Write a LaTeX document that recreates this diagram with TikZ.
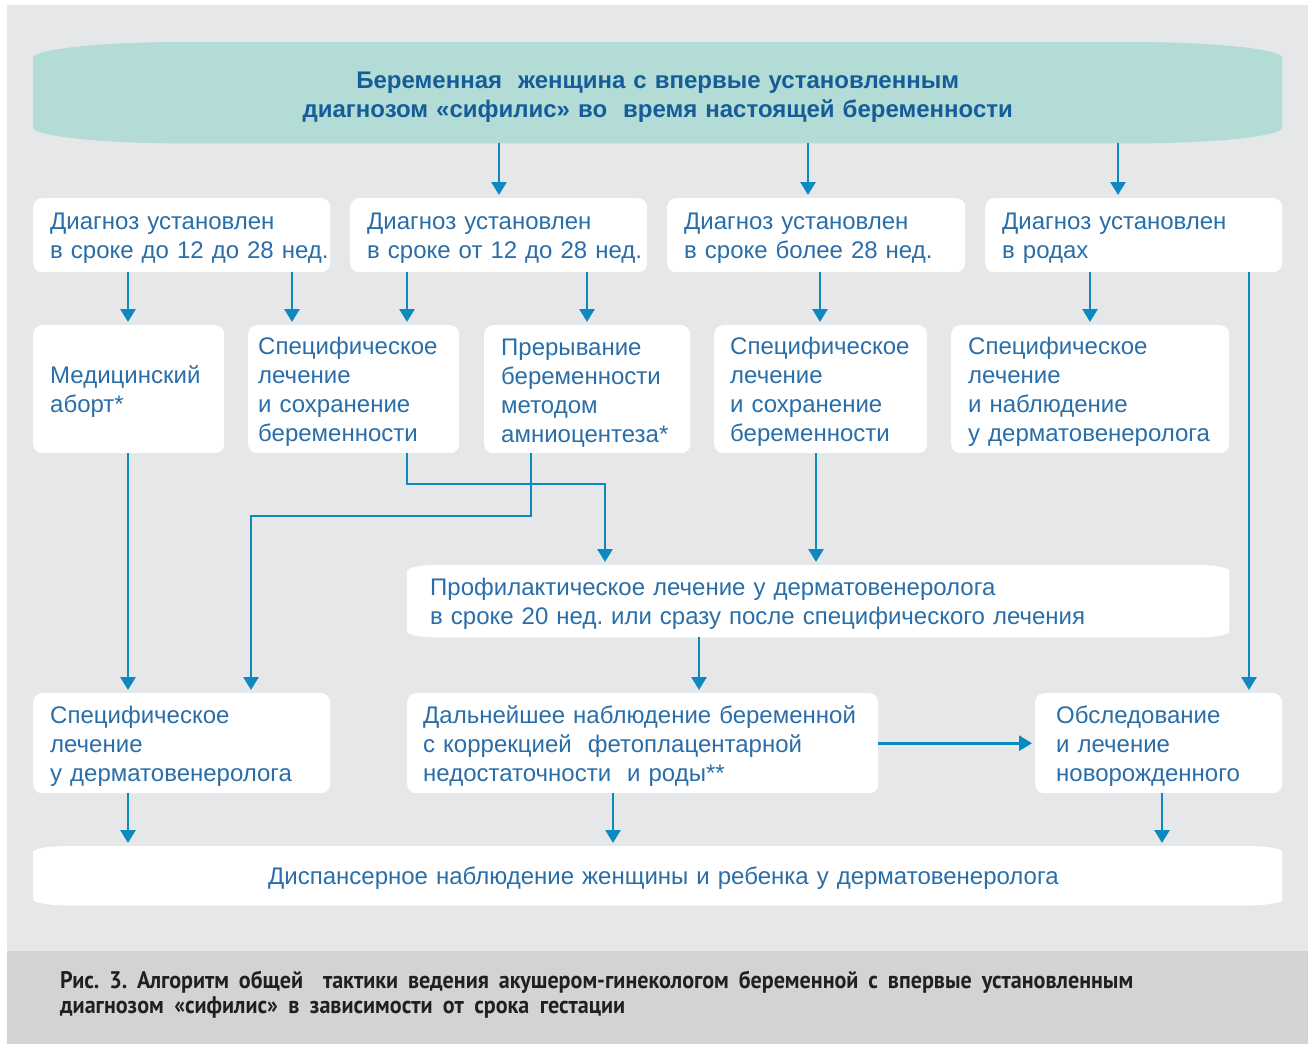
\documentclass[tikz,border=0pt]{standalone}
\usepackage{fontspec}
\setmainfont{Liberation Sans}
\newfontfamily\capfamily{PT Sans}[FakeStretch=0.92]
\usetikzlibrary{arrows.meta}
\frenchspacing

\definecolor{pagegray}{HTML}{E6E7E8}
\definecolor{capgray}{HTML}{D1D3D4}
\definecolor{bannerfill}{HTML}{B3DCD7}
\definecolor{headblue}{HTML}{155D99}
\definecolor{boxblue}{HTML}{2A6EA9}
\definecolor{arrowblue}{HTML}{0C89BF}
\definecolor{capink}{HTML}{231F20}

\pgfdeclarelayer{pagelayer}
\pgfdeclarelayer{shapelayer}
\pgfsetlayers{pagelayer,shapelayer,main}

% filled outline with wide elliptical corners behind a named node
\newcommand\softback[4]{%
  \begin{pgfonlayer}{shapelayer}
  \fill[#4]
    ([yshift=-#3]#1.north west)
      .. controls ([yshift=-0.45*#3]#1.north west) and ([xshift=0.45*#2]#1.north west) ..
    ([xshift=#2]#1.north west) -- ([xshift=-#2]#1.north east)
      .. controls ([xshift=-0.45*#2]#1.north east) and ([yshift=-0.45*#3]#1.north east) ..
    ([yshift=-#3]#1.north east) -- ([yshift=#3]#1.south east)
      .. controls ([yshift=0.45*#3]#1.south east) and ([xshift=-0.45*#2]#1.south east) ..
    ([xshift=-#2]#1.south east) -- ([xshift=#2]#1.south west)
      .. controls ([xshift=0.45*#2]#1.south west) and ([yshift=0.45*#3]#1.south west) ..
    ([yshift=#3]#1.south west) -- cycle;
  \end{pgfonlayer}}

\tikzset{
  boxtext/.style={anchor=north west, inner xsep=17pt, inner ysep=0pt, align=left,
    text=boxblue, font=\fontsize{24}{29}\selectfont,
    execute at begin node={\rule{0pt}{23.5pt}}},
  box/.style={boxtext, fill=white, rounded corners=9pt},
  arr/.style={draw=arrowblue, line width=2.7pt, -{Triangle[width=15pt,length=13pt]},
    shorten >=3pt},
}

\begin{document}
\begin{tikzpicture}[x=1pt,y=-1pt]
\useasboundingbox (0,0) rectangle (1308,1044);
\begin{pgfonlayer}{pagelayer}
  \fill[white] (0,0) rectangle (1308,1044);
  \fill[pagegray] (7,5) rectangle (1308,951);
  \fill[capgray] (7,951) rectangle (1308,1044);
\end{pgfonlayer}

% heading
\node[anchor=north west, minimum width=1249pt, minimum height=101pt, inner sep=0pt,
  text width=1249pt, align=center, text=headblue,
  font=\bfseries\fontsize{24}{29}\selectfont,
  execute at begin node={\rule{0pt}{25pt}}]
  (banner) at (33,42)
  {Беременная~ женщина с впервые установленным\\диагнозом «сифилис» во~ время настоящей беременности};
\softback{banner}{150pt}{16pt}{bannerfill}

% row 1
\node[box, minimum width=297pt, minimum height=74pt, text width=263pt] (a1) at (33,198)
  {Диагноз установлен\\в~сроке~до~12~до~28~нед.};
\node[box, minimum width=297pt, minimum height=74pt, text width=263pt] (a2) at (350,198)
  {Диагноз установлен\\в~сроке~от~12~до~28~нед.};
\node[box, minimum width=298pt, minimum height=74pt, text width=264pt] (a3) at (667,198)
  {Диагноз установлен\\в сроке более 28 нед.};
\node[box, minimum width=297pt, minimum height=74pt, text width=263pt] (a4) at (985,198)
  {Диагноз установлен\\в родах};

% row 2
\node[box, minimum width=191pt, minimum height=128pt, text width=157pt] (b1) at (33,325)
  {Медицинский\\аборт*};
\node[box, inner xsep=10pt, minimum width=211pt, minimum height=128pt, text width=191pt] (b2) at (248,325)
  {Специфическое\\лечение\\и сохранение\\беременности};
\node[box, minimum width=206pt, minimum height=128pt, text width=172pt] (b3) at (484,325)
  {Прерывание\\беременности\\методом\\амниоцентеза*};
\node[box, inner xsep=16pt, minimum width=213pt, minimum height=128pt, text width=181pt] (b4) at (714,325)
  {Специфическое\\лечение\\и сохранение\\беременности};
\node[box, minimum width=278pt, minimum height=128pt, text width=244pt] (b5) at (951,325)
  {Специфическое\\лечение\\и наблюдение\\у~дерматовенеролога};

% preventive treatment
\node[boxtext, inner xsep=23pt, minimum width=822pt, minimum height=72pt, text width=776pt] (c) at (407,565)
  {Профилактическое лечение у дерматовенеролога\\в сроке 20 нед. или сразу после специфического лечения};
\softback{c}{30pt}{6pt}{white}

% row 4
\node[box, minimum width=297pt, minimum height=100pt, text width=263pt] (d1) at (33,693)
  {Специфическое\\лечение\\у дерматовенеролога};
\node[box, inner xsep=16pt, minimum width=471pt, minimum height=100pt, text width=439pt] (d2) at (407,693)
  {Дальнейшее~наблюдение~беременной\\с коррекцией~ фетоплацентарной\\недостаточности~ и роды**};
\node[box, inner xsep=21pt, minimum width=247pt, minimum height=100pt, text width=205pt] (d3) at (1035,693)
  {Обследование\\и лечение\\новорожденного};

% follow-up
\node[boxtext, inner xsep=0pt, minimum width=1249pt, minimum height=59pt, text width=1249pt,
  execute at begin node={\rule{0pt}{21.5pt}}] (e) at (33,846)
  {\hspace*{235pt}Диспансерное наблюдение женщины и ребенка у дерматовенеролога};
\softback{e}{35pt}{6pt}{white}

% connector columns and bends
\coordinate (x128) at (128,0);
\coordinate (x292) at (292,0);
\coordinate (x407) at (407,0);
\coordinate (x499) at (499,0);
\coordinate (x531) at (531,0);
\coordinate (x587) at (587,0);
\coordinate (x613) at (613,0);
\coordinate (x699) at (699,0);
\coordinate (x808) at (808,0);
\coordinate (x816) at (816,0);
\coordinate (x820) at (820,0);
\coordinate (x1090) at (1090,0);
\coordinate (x1118) at (1118,0);
\coordinate (x1162) at (1162,0);
\coordinate (x1249) at (1249,0);
\coordinate (bendA) at (605,484);
\coordinate (bendB) at (251,516);

\draw[arr] (banner.south -| x499) -- (a2.north -| x499);
\draw[arr] (banner.south -| x808) -- (a3.north -| x808);
\draw[arr] (banner.south -| x1118) -- (a4.north -| x1118);

\draw[arr] (a1.south -| x128) -- (b1.north -| x128);
\draw[arr] (a1.south -| x292) -- (b2.north -| x292);
\draw[arr] (a2.south -| x407) -- (b2.north -| x407);
\draw[arr] (a2.south -| x587) -- (b3.north -| x587);
\draw[arr] (a3.south -| x820) -- (b4.north -| x820);
\draw[arr] (a4.south -| x1090) -- (b5.north -| x1090);
\draw[arr] (a4.south -| x1249) -- (d3.north -| x1249);

\draw[arr] (b1.south -| x128) -- (d1.north -| x128);
\draw[arr] (b2.south -| x407) |- (bendA) -- (c.north -| bendA);
\draw[arr] (b3.south -| x531) |- (bendB) -- (d1.north -| bendB);
\draw[arr] (b4.south -| x816) -- (c.north -| x816);

\draw[arr] (c.south -| x699) -- (d2.north -| x699);
\draw[arr] (d2.east) -- (d3.west);

\draw[arr] (d1.south -| x128) -- (e.north -| x128);
\draw[arr] (d2.south -| x613) -- (e.north -| x613);
\draw[arr] (d3.south -| x1162) -- (e.north -| x1162);

% caption
\node[anchor=north west, inner sep=0pt, align=left, text=capink,
  font=\capfamily\bfseries\fontsize{24}{25}\selectfont] (caption) at (60,971)
  {\makebox[1073pt][s]{Рис. 3. Алгоритм общей~ тактики ведения акушером-гинекологом беременной с впервые установленным}\\
   \makebox[565pt][s]{диагнозом «сифилис» в зависимости от срока гестации}};
\end{tikzpicture}
\end{document}
